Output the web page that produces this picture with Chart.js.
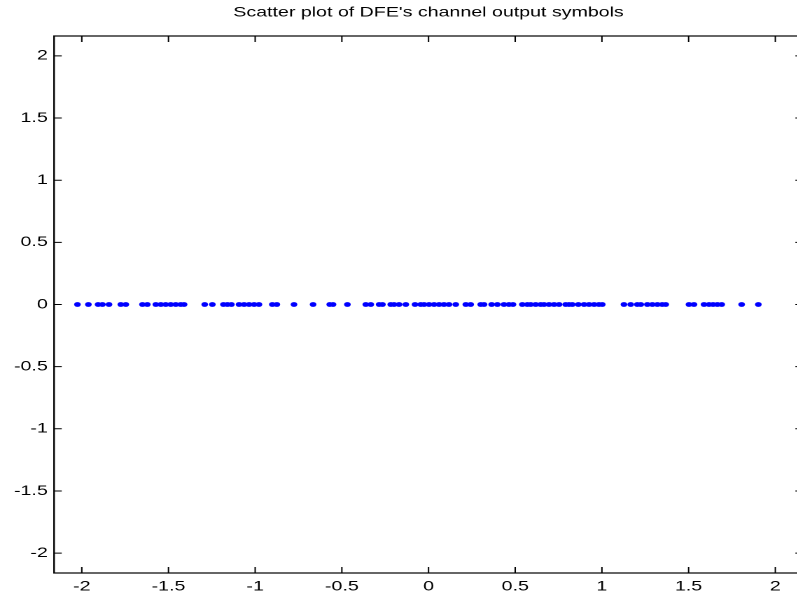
<!DOCTYPE html>
<html>
<head>
<meta charset="utf-8">
<script src="https://cdn.jsdelivr.net/npm/chart.js@4/dist/chart.umd.min.js"></script>
<style>
  html, body { margin: 0; padding: 0; background: #fff; overflow: hidden; width: 797px; height: 599px; }
  /* the reference figure is stretched sideways, so the whole chart is too */
  #wrap { position: absolute; left: 0; top: 0; width: 580px; height: 599px; transform: scaleX(1.4); transform-origin: 0 0; }
</style>
</head>
<body>
<div id="wrap"><canvas id="scatter"></canvas></div>
<script>
// DFE channel output symbols (in-phase part)
const symbolX = [
  -2.025, -1.962, -1.906, -1.881, -1.843, -1.775, -1.746, -1.650, -1.622, -1.573,
  -1.544, -1.516, -1.487, -1.458, -1.429, -1.410, -1.291, -1.247, -1.183, -1.160,
  -1.137, -1.093, -1.064, -1.035, -1.006, -0.978, -0.901, -0.875, -0.776, -0.666,
  -0.570, -0.551, -0.468, -0.362, -0.333, -0.285, -0.266, -0.218, -0.199, -0.170,
  -0.131, -0.078, -0.045, -0.026, 0.003, 0.032, 0.061, 0.089, 0.118, 0.157,
  0.215, 0.243, 0.301, 0.320, 0.364, 0.397, 0.435, 0.464, 0.487, 0.541,
  0.570, 0.589, 0.618, 0.647, 0.666, 0.695, 0.724, 0.753, 0.791, 0.810,
  0.829, 0.864, 0.897, 0.926, 0.955, 0.983, 1.002, 1.127, 1.166, 1.204,
  1.224, 1.262, 1.291, 1.320, 1.348, 1.368, 1.502, 1.531, 1.589, 1.618,
  1.641, 1.666, 1.691, 1.806, 1.902
];
// quadrature part is zero for every symbol
const symbolY = [
  0, 0, 0, 0, 0, 0, 0, 0, 0, 0,
  0, 0, 0, 0, 0, 0, 0, 0, 0, 0,
  0, 0, 0, 0, 0, 0, 0, 0, 0, 0,
  0, 0, 0, 0, 0, 0, 0, 0, 0, 0,
  0, 0, 0, 0, 0, 0, 0, 0, 0, 0,
  0, 0, 0, 0, 0, 0, 0, 0, 0, 0,
  0, 0, 0, 0, 0, 0, 0, 0, 0, 0,
  0, 0, 0, 0, 0, 0, 0, 0, 0, 0,
  0, 0, 0, 0, 0, 0, 0, 0, 0, 0,
  0, 0, 0, 0, 0
];
const xTicks = [-2, -1.5, -1, -0.5, 0, 0.5, 1, 1.5, 2];
const yTicks = [-2, -1.5, -1, -0.5, 0, 0.5, 1, 1.5, 2];
const axisMin = -2.16;
const axisMax = 2.16;

const points = symbolX.map((x, i) => ({ x: x, y: symbolY[i] }));

// matlab style box with ticks pointing inwards on all four sides
const boxPlugin = {
  id: 'matlabBox',
  afterDraw(chart) {
    const ctx = chart.ctx;
    const a = chart.chartArea;
    const xs = chart.scales.x, ys = chart.scales.y;
    ctx.save();
    ctx.strokeStyle = '#000';
    ctx.lineWidth = 1.2;
    ctx.strokeRect(a.left, a.top, a.right - a.left, a.bottom - a.top);
    ctx.lineWidth = 1;
    ctx.beginPath();
    xTicks.forEach(v => {
      const px = xs.getPixelForValue(v);
      ctx.moveTo(px, a.bottom); ctx.lineTo(px, a.bottom - 6);
      ctx.moveTo(px, a.top); ctx.lineTo(px, a.top + 6);
    });
    yTicks.forEach(v => {
      const py = ys.getPixelForValue(v);
      ctx.moveTo(a.left, py); ctx.lineTo(a.left + 5.5, py);
      ctx.moveTo(a.right, py); ctx.lineTo(a.right - 5.5, py);
    });
    ctx.stroke();
    ctx.restore();
  }
};

const tickFont = { family: '"Liberation Sans", Arial, sans-serif', size: 14 };

const ctx = document.getElementById('scatter').getContext('2d');
new Chart(ctx, {
  type: 'scatter',
  data: {
    datasets: [{
      data: points,
      backgroundColor: '#0000ff',
      borderColor: '#0000ff',
      borderWidth: 0,
      pointRadius: 2.4
    }]
  },
  options: {
    responsive: true,
    maintainAspectRatio: false,
    devicePixelRatio: 2,
    animation: false,
    events: [],
    layout: { padding: { top: 0, right: 6.4, bottom: 0, left: 0 } },
    plugins: {
      legend: { display: false },
      tooltip: { enabled: false },
      title: {
        display: true,
        fullSize: false,
        text: "Scatter plot of DFE's channel output symbols",
        color: '#000',
        font: { family: '"Liberation Sans", Arial, sans-serif', size: 14, weight: 'normal', lineHeight: 1.2 },
        padding: { top: 4, bottom: 15.2 }
      }
    },
    scales: {
      x: {
        type: 'linear',
        min: axisMin,
        max: axisMax,
        grid: { display: false, drawTicks: false },
        border: { display: false },
        afterBuildTicks: scale => { scale.ticks = xTicks.map(v => ({ value: v })); },
        afterFit: scale => { scale.height = 26; },
        ticks: {
          color: '#000',
          padding: 5,
          maxRotation: 0,
          autoSkip: false,
          font: tickFont,
          callback: v => String(v)
        }
      },
      y: {
        type: 'linear',
        min: axisMin,
        max: axisMax,
        grid: { display: false, drawTicks: false },
        border: { display: false },
        afterBuildTicks: scale => { scale.ticks = yTicks.map(v => ({ value: v })); },
        afterFit: scale => { scale.width = 38.6; },
        ticks: {
          color: '#000',
          padding: 4.5,
          autoSkip: false,
          font: tickFont,
          callback: v => String(v)
        }
      }
    }
  },
  plugins: [boxPlugin]
});
</script>
</body>
</html>
